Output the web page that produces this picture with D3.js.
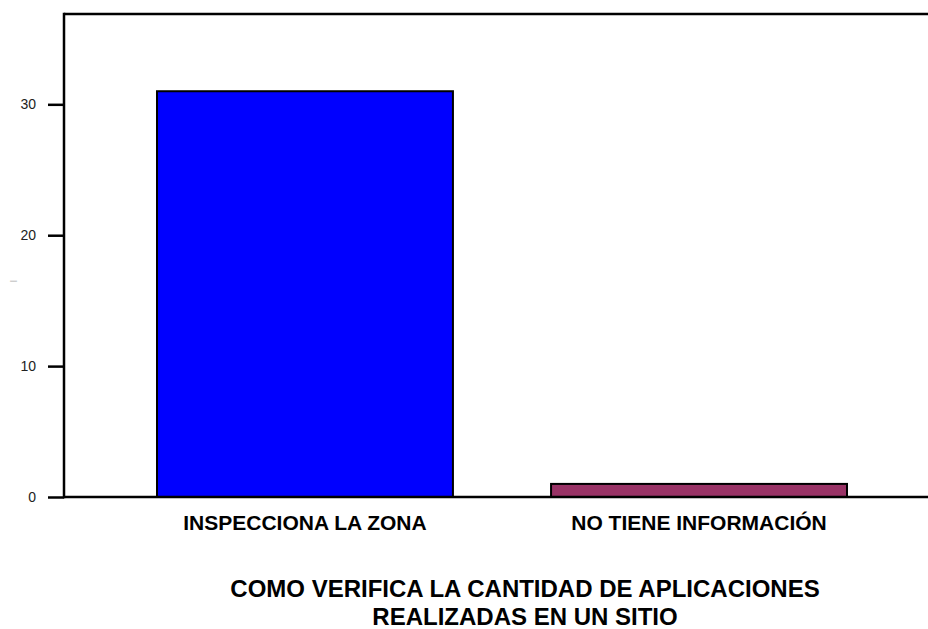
<!DOCTYPE html>
<html>
<head>
<meta charset="utf-8">
<script src="https://cdn.jsdelivr.net/npm/d3@7"></script>
<style>
  body { margin: 0; background: #fff; }
  svg { font-family: "Liberation Sans", Arial, sans-serif; }
</style>
</head>
<body>
<svg id="chart" width="928" height="629"></svg>
<script>
// Data
const categories = ['INSPECCIONA LA ZONA', 'NO TIENE INFORMACIÓN'];
const counts = [31, 1];
const barColors = ['#0000ff', '#993366'];
const yTicks = [0, 10, 20, 30];
const titleLines = ['COMO VERIFICA LA CANTIDAD DE APLICACIONES', 'REALIZADAS EN UN SITIO'];

const margin = {top: 14, right: 0, bottom: 132, left: 64};
const width = 928 - margin.left - margin.right;
const height = 629 - margin.top - margin.bottom;

const svg = d3.select('#chart');
const g = svg.append('g')
    .attr('transform', 'translate(' + margin.left + ',' + margin.top + ')');

// Scales
const x = d3.scaleBand()
    .domain(categories)
    .range([93, 783])
    .paddingInner(0.249)
    .paddingOuter(0);

const y = d3.scaleLinear()
    .domain([0, 36.9])
    .range([height, 0]);

// Bars
g.selectAll('rect.bar')
    .data(categories)
    .enter()
    .append('rect')
    .attr('class', 'bar')
    .attr('x', d => x(d))
    .attr('y', (d, i) => y(counts[i]))
    .attr('width', x.bandwidth())
    .attr('height', (d, i) => y(0) - y(counts[i]))
    .attr('fill', (d, i) => barColors[i])
    .attr('stroke', '#000')
    .attr('stroke-width', 2);

// Frame: top line and bottom axis line across full width
g.append('line')
    .attr('x1', 0).attr('x2', width)
    .attr('y1', 0).attr('y2', 0)
    .attr('stroke', '#000').attr('stroke-width', 2.5);

g.append('line')
    .attr('x1', 0).attr('x2', width)
    .attr('y1', height).attr('y2', height)
    .attr('stroke', '#000').attr('stroke-width', 2.5);

// Y axis
const yAxis = g.append('g')
    .call(d3.axisLeft(y).tickValues(yTicks).tickSize(16).tickPadding(12).tickSizeOuter(0));
yAxis.select('.domain').remove();
g.append('line')
    .attr('x1', 0).attr('x2', 0)
    .attr('y1', -1.2).attr('y2', height + 1.2)
    .attr('stroke', '#000').attr('stroke-width', 2.5);
yAxis.selectAll('.tick line').attr('stroke', '#000').attr('stroke-width', 2.5);
yAxis.selectAll('.tick text')
    .attr('font-size', 14)
    .attr('fill', '#222')
    .attr('font-family', '"Liberation Sans", Arial, sans-serif');

// Tiny y-axis title mark
svg.append('text')
    .attr('transform', 'translate(13,281) rotate(-90)')
    .attr('text-anchor', 'middle')
    .attr('dy', '0.35em')
    .attr('font-size', 7)
    .attr('fill', '#888')
    .text('|');

// Category labels
g.selectAll('text.cat')
    .data(categories)
    .enter()
    .append('text')
    .attr('class', 'cat')
    .attr('x', d => x(d) + x.bandwidth() / 2)
    .attr('y', height + 33)
    .attr('text-anchor', 'middle')
    .attr('font-size', 21)
    .attr('font-weight', 'bold')
    .attr('fill', '#000')
    .text(d => d);

// Title below the chart
svg.selectAll('text.title')
    .data(titleLines)
    .enter()
    .append('text')
    .attr('class', 'title')
    .attr('x', 525)
    .attr('y', (d, i) => 597 + i * 28)
    .attr('text-anchor', 'middle')
    .attr('font-size', 24)
    .attr('font-weight', 'bold')
    .attr('fill', '#000')
    .text(d => d);
</script>
</body>
</html>
